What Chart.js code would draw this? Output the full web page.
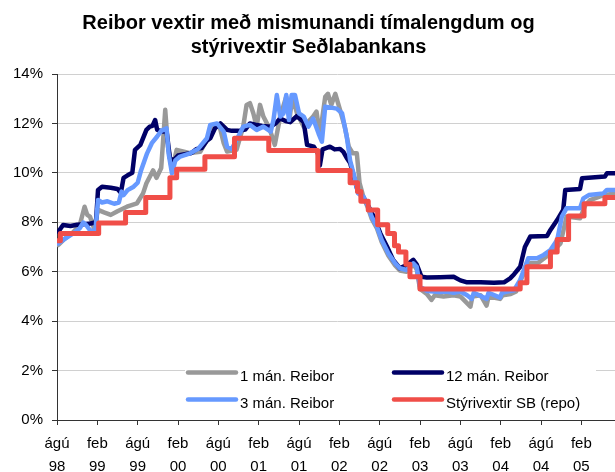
<!DOCTYPE html>
<html>
<head>
<meta charset="utf-8">
<script src="https://cdn.jsdelivr.net/npm/chart.js@4.4.1/dist/chart.umd.min.js"></script>
<style>
  html, body { margin: 0; padding: 0; background: #fff; overflow: hidden; }
  #wrap { width: 640px; height: 480px; }
</style>
</head>
<body>
<div id="wrap"><canvas id="reiborChart" width="640" height="480"></canvas></div>
<script>
// x = months since August 1998 (agu 98 = 0, feb 99 = 6, ...)
var tickLabels = [
  ['ágú', '98'], ['feb', '99'], ['ágú', '99'], ['feb', '00'], ['ágú', '00'],
  ['feb', '01'], ['ágú', '01'], ['feb', '02'], ['ágú', '02'], ['feb', '03'],
  ['ágú', '03'], ['feb', '04'], ['ágú', '04'], ['feb', '05'], ['ágú', '05']
];
var yTicks = [0, 2, 4, 6, 8, 10, 12, 14];

// 1 man. Reibor
var oneMonthX = [0.2, 1, 2.4, 3.4, 4.1, 4.5, 4.9, 5.5, 6.1, 7, 8, 9, 10.4, 11.9, 12.8, 13.3, 14.3, 14.8, 15.5, 16.1, 16.5, 17.1, 17.8, 19.8, 21.3, 22.3, 23.3, 24.2, 24.8, 25.3, 26.7, 27.7, 28.2, 28.7, 29.2, 29.7, 30.2, 30.7, 31.6, 32.4, 33.2, 34.1, 34.6, 35.0, 35.7, 36.7, 38.1, 38.6, 39.1, 39.9, 40.3, 40.8, 41.4, 42.1, 42.8, 43.4, 44.0, 44.6, 45.0, 45.6, 46.3, 46.8, 47.6, 48.3, 49.3, 50.3, 51.0, 52.0, 53.0, 53.5, 54.0, 55, 55.7, 56.2, 57.5, 59, 60, 61.5, 61.8, 63.0, 63.9, 64.2, 65.9, 66.3, 67.5, 68.3, 69.2, 70.4, 71.5, 73.4, 74.9, 75.8, 77.8, 78.6, 79.3, 81.3, 83.3];
var oneMonthY = [7.08, 7.3, 7.6, 7.9, 8.63, 8.3, 8.23, 7.76, 8.5, 8.4, 8.3, 8.45, 8.63, 8.77, 9.17, 9.58, 10.1, 9.8, 10.2, 12.55, 11.06, 10.12, 10.93, 10.8, 10.85, 11.33, 11.94, 11.87, 11.2, 10.86, 10.93, 11.87, 12.75, 12.82, 12.41, 11.87, 12.75, 12.28, 11.8, 11.13, 12.28, 13.08, 12.2, 13.08, 12.41, 11.87, 12.28, 12.48, 11.53, 13.08, 13.2, 12.75, 13.2, 12.55, 11.87, 11.06, 10.79, 10.79, 9.6, 9.0, 8.55, 8.15, 7.75, 7.2, 6.65, 6.25, 6.05, 6.0, 6.3, 6.1, 5.3, 5.1, 4.86, 5.05, 5.0, 5.05, 5.0, 4.59, 5.0, 5.05, 4.63, 5.0, 4.9, 5.05, 5.1, 5.2, 5.8, 6.34, 6.34, 6.74, 7.15, 8.23, 8.16, 8.7, 8.9, 9.1, 9.17];

// 12 man. Reibor
var twelveMonthX = [0.2, 0.9, 2, 3, 3.9, 5, 5.8, 6.1, 6.7, 8, 9, 9.5, 9.9, 10.5, 11.2, 11.6, 12.4, 13.3, 13.8, 14.2, 14.6, 14.9, 15.8, 16.3, 16.8, 17.3, 18, 19, 20, 20.8, 21.5, 22.3, 22.8, 23.5, 24.3, 25.3, 26, 27, 28, 28.7, 29.5, 30.5, 31.8, 32.5, 33.2, 34, 34.7, 35.7, 36.7, 37.2, 38.2, 38.8, 39.1, 39.5, 40.6, 41.3, 42.1, 42.6, 43.1, 43.6, 44.1, 44.8, 45.6, 46.1, 47.1, 48.1, 49.1, 50.0, 51.0, 52.0, 53.0, 53.5, 54.2, 55, 57, 59, 60, 61, 63, 65, 66.5, 67.4, 68, 68.9, 69.6, 70.4, 72.9, 73.4, 74.4, 75.3, 75.6, 77.8, 78.1, 81.5, 81.8, 83.3];
var twelveMonthY = [7.62, 7.89, 7.85, 7.9, 7.92, 7.95, 8.0, 9.31, 9.44, 9.4, 9.35, 9.2, 9.8, 9.9, 10.0, 10.93, 11.13, 11.74, 11.87, 11.9, 12.14, 11.74, 11.67, 11.67, 10.6, 10.5, 10.7, 10.75, 10.8, 10.97, 11.0, 11.3, 11.4, 11.8, 12.0, 11.74, 11.7, 11.7, 11.75, 12.0, 11.95, 11.9, 11.87, 12.0, 12.2, 12.1, 12.05, 12.3, 12.05, 11.13, 11.06, 10.8, 10.3, 10.95, 11.06, 10.95, 10.97, 10.85, 10.6, 10.4, 9.9, 9.2, 9.0, 8.77, 8.23, 7.55, 7.01, 6.48, 6.14, 6.27, 6.48, 6.3, 5.8, 5.77, 5.78, 5.8, 5.65, 5.57, 5.57, 5.55, 5.57, 5.73, 5.9, 6.2, 7.0, 7.42, 7.45, 7.69, 8.09, 8.5, 9.31, 9.35, 9.78, 9.85, 9.98, 9.98];

// 3 man. Reibor
var threeMonthX = [0.2, 1, 2.4, 3.4, 3.9, 4.3, 4.9, 5.7, 6.1, 6.7, 7.5, 8.5, 9.2, 9.6, 9.9, 10.5, 11.4, 12.0, 12.5, 13.4, 14.1, 14.9, 15.5, 16.3, 16.6, 17.1, 17.6, 18.3, 19.8, 21.0, 22.3, 22.8, 23.8, 24.8, 25.3, 26.0, 26.7, 27.7, 28.7, 29.7, 30.7, 31.8, 32.2, 32.7, 33.2, 33.7, 34.1, 34.5, 34.9, 35.4, 36.0, 36.7, 37.4, 38.1, 38.9, 39.4, 39.9, 41.6, 42.4, 43.1, 43.6, 44.1, 44.8, 45.6, 46.3, 46.8, 47.6, 48.3, 49.3, 50.3, 51.0, 52.0, 53.0, 53.5, 54.0, 55, 56, 57, 58, 59, 60, 61, 61.7, 62, 63.9, 64.2, 65.9, 66.2, 67, 68, 68.9, 70.1, 71.4, 72.4, 73.4, 74.4, 75.1, 75.8, 77.8, 78.3, 79.1, 81.3, 81.8, 83.3];
var threeMonthY = [7.15, 7.3, 7.55, 7.76, 7.99, 7.9, 7.68, 7.62, 8.9, 8.8, 8.85, 8.75, 8.8, 9.24, 9.1, 9.3, 9.44, 9.6, 10.1, 10.79, 11.2, 11.47, 11.7, 11.8, 10.79, 9.98, 10.5, 10.66, 10.79, 10.97, 11.4, 11.94, 12.0, 11.67, 11.06, 10.97, 11.33, 11.87, 11.94, 11.74, 11.87, 11.67, 12.14, 13.15, 12.28, 12.41, 13.15, 12.14, 13.15, 13.15, 12.41, 12.28, 11.87, 12.2, 11.6, 11.26, 12.68, 12.6, 12.41, 11.47, 10.5, 9.98, 9.17, 9.04, 8.63, 8.23, 7.82, 7.28, 6.74, 6.34, 6.14, 6.07, 6.34, 6.2, 5.4, 5.22, 5.2, 5.18, 5.2, 5.15, 5.2, 5.05, 4.9, 5.15, 4.9, 5.15, 4.95, 5.15, 5.2, 5.25, 5.67, 6.54, 6.54, 6.68, 6.88, 7.28, 8.23, 8.57, 8.57, 8.97, 9.1, 9.17, 9.31, 9.31];

// Styrivextir SB (repo) - step changes: new rate from that month on
var repoX = [0, 0.5, 6.2, 10.2, 13.2, 16.8, 17.8, 22, 26.4, 31.5, 38.8, 43.6, 44.7, 45.2, 46.3, 47.7, 49.2, 50.2, 50.8, 51.9, 52.5, 54.0, 68.9, 69.9, 73.4, 74.4, 76.1, 78.4, 81.5, 83.3];
var repoY = [7.25, 7.55, 7.97, 8.4, 9.0, 9.8, 10.15, 10.65, 11.4, 10.9, 10.1, 9.6, 9.25, 8.85, 8.5, 7.9, 7.55, 7.05, 6.8, 6.3, 5.8, 5.3, 5.55, 6.2, 6.8, 7.3, 8.25, 8.75, 9.0, 9.0];

var seriesNames = ['1 mán. Reibor', '12 mán. Reibor', '3 mán. Reibor', 'Stýrivextir SB (repo)'];
var seriesColors = ['#999999', '#000066', '#6699ff', '#f04e48'];

function toPoints(xs, ys) {
  var pts = [];
  for (var i = 0; i < xs.length; i++) {
    pts.push({ x: xs[i], y: ys[i] });
  }
  return pts;
}

var fontFam = "'Liberation Sans', Arial, Helvetica, sans-serif";

// legend sits inside the plot, two columns x two rows, on white
var legendInPlot = {
  id: 'legendInPlot',
  afterDraw: function (chart) {
    var ctx = chart.ctx;
    var area = chart.chartArea;
    var yScale = chart.scales.y;
    var boxLeft = area.left + 128;
    var boxRight = area.left + 539;
    var rowY = [yScale.getPixelForValue(2) + 2, yScale.getPixelForValue(2) + 29];
    var colX = [area.left + 131, area.left + 337];
    ctx.save();
    ctx.fillStyle = '#ffffff';
    ctx.fillRect(boxLeft, rowY[0] - 14, boxRight - boxLeft, 56);
    ctx.font = '15px ' + fontFam;
    ctx.textBaseline = 'alphabetic';
    ctx.textAlign = 'left';
    ctx.lineCap = 'round';
    ctx.lineWidth = 4.5;
    for (var i = 0; i < seriesNames.length; i++) {
      var col = i % 2;
      var row = Math.floor(i / 2);
      var x0 = colX[col];
      var y0 = rowY[row];
      ctx.strokeStyle = seriesColors[i];
      ctx.beginPath();
      ctx.moveTo(x0, y0);
      ctx.lineTo(x0 + 48, y0);
      ctx.stroke();
      ctx.fillStyle = '#000';
      ctx.fillText(seriesNames[i], x0 + 52, y0 + 8);
    }
    ctx.restore();
  }
};

const CHART = document.getElementById('reiborChart');
let lineChart = new Chart(CHART, {
  type: 'line',
  data: {
    datasets: [
      {
        label: seriesNames[0],
        data: toPoints(oneMonthX, oneMonthY),
        borderColor: seriesColors[0],
        borderWidth: 4.5,
        order: 3
      },
      {
        label: seriesNames[1],
        data: toPoints(twelveMonthX, twelveMonthY),
        borderColor: seriesColors[1],
        borderWidth: 4.5,
        order: 2
      },
      {
        label: seriesNames[2],
        data: toPoints(threeMonthX, threeMonthY),
        borderColor: seriesColors[2],
        borderWidth: 4.5,
        order: 1
      },
      {
        label: seriesNames[3],
        data: toPoints(repoX, repoY),
        borderColor: seriesColors[3],
        borderWidth: 5,
        stepped: 'before',
        order: 0
      }
    ]
  },
  options: {
    responsive: false,
    animation: false,
    devicePixelRatio: 1,
    layout: { padding: { left: 0, right: 23, top: 0, bottom: 0 } },
    elements: {
      point: { radius: 0 },
      line: { tension: 0, borderJoinStyle: 'round', borderCapStyle: 'round', fill: false }
    },
    plugins: {
      legend: { display: false },
      tooltip: { enabled: false },
      title: {
        display: true,
        text: ['Reibor vextir með mismunandi tímalengdum og', 'stýrivextir Seðlabankans'],
        color: '#000',
        font: { family: fontFam, size: 20, weight: 'bold', lineHeight: 1.2 },
        padding: { top: 11, bottom: 15 }
      }
    },
    scales: {
      x: {
        type: 'linear',
        min: 0,
        max: 83.3,
        afterFit: function (scale) { scale.height = 60; },
        afterBuildTicks: function (scale) {
          scale.ticks = [];
          for (var i = 0; i < tickLabels.length; i++) {
            if (i * 6 <= scale.max) scale.ticks.push({ value: i * 6 });
          }
        },
        grid: { drawOnChartArea: false, drawTicks: true, tickLength: 5, tickColor: '#333' },
        border: { display: true, color: '#333', width: 1 },
        ticks: {
          autoSkip: false,
          maxRotation: 0,
          padding: 8,
          color: '#000',
          font: { family: fontFam, size: 15, lineHeight: 1.5 },
          callback: function (value) { return tickLabels[Math.round(value / 6)]; }
        }
      },
      y: {
        min: 0,
        max: 14,
        afterFit: function (scale) { scale.width = 57; },
        afterBuildTicks: function (scale) {
          scale.ticks = yTicks.map(function (v) { return { value: v }; });
        },
        grid: { color: '#d0d0d0', drawTicks: true, tickLength: 5, tickColor: '#333' },
        border: { display: true, color: '#333', width: 1 },
        ticks: {
          padding: 9,
          color: '#000',
          font: { family: fontFam, size: 15 },
          callback: function (value) { return value + '%'; }
        }
      }
    }
  },
  plugins: [legendInPlot]
});
</script>
</body>
</html>
